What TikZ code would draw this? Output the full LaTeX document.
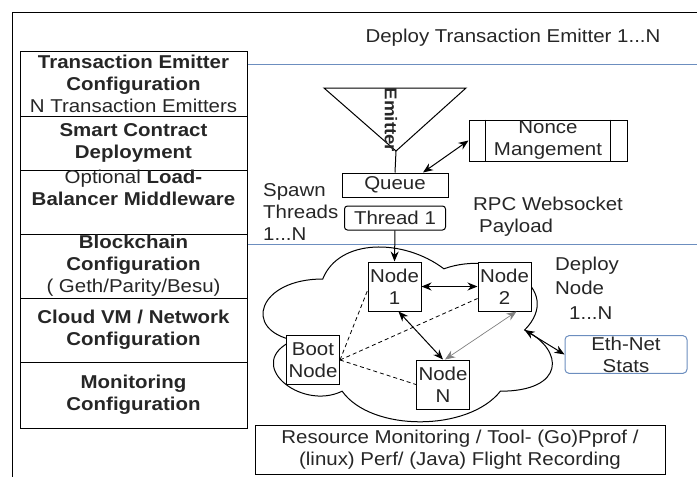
\documentclass[tikz,border=0pt]{standalone}
\usepackage{fontspec}
\setmainfont[FakeStretch=1.1]{Liberation Sans}
\usetikzlibrary{positioning,arrows.meta}

\definecolor{ruleblue}{HTML}{6C8EBF}
\definecolor{inkgray}{HTML}{262626}

\tikzset{
  cfgbox/.style={draw, line width=1pt, outer sep=0pt, inner sep=0pt,
    minimum width=227pt, minimum height=#1, align=center},
  procbox/.style={draw, line width=1pt, inner sep=1pt, align=center},
  netnode/.style={draw, line width=1pt, fill=white, inner sep=1pt,
    minimum width=53pt, minimum height=49pt, align=center},
  note/.style={inner sep=0pt, align=left},
  link/.style={line width=1pt, <->},
  peerlink/.style={line width=0.8pt, dashed, dash pattern=on 4pt off 3pt}
}

\begin{document}
\begin{tikzpicture}[x=1pt, y=-1pt, >={Stealth[length=10pt,width=8pt]},
  font=\fontsize{18.6}{22}\selectfont, text=inkgray]
\useasboundingbox (0,0) rectangle (697,477);

% frame and separators
\draw[line width=1pt] (12,477) |- (697,12);
\draw[ruleblue, line width=1pt] (247,64) -- (697,64);
\draw[ruleblue, line width=1pt] (247,244) -- (697,244);

% configuration stack
\node[cfgbox=65pt] (tecfg) at (133.5,83.5)
  {\textbf{Transaction Emitter}\\\textbf{Configuration}\\N Transaction Emitters};
\node[cfgbox=54pt, below=0pt of tecfg] (sccfg)
  {\textbf{Smart Contract}\\\textbf{Deployment}};
\node[cfgbox=60pt, below=0pt of sccfg] (lbcfg)
  {Optional \textbf{Load-}\\\textbf{Balancer Middleware}\\\strut};
\node[cfgbox=64pt, below=0pt of lbcfg] (bccfg)
  {\textbf{Blockchain}\\\textbf{Configuration}\\( Geth/Parity/Besu)};
\node[cfgbox=64pt, below=0pt of bccfg] (vmcfg)
  {\textbf{Cloud VM / Network}\\\textbf{Configuration}};
\node[cfgbox=66pt, below=0pt of vmcfg] (moncfg)
  {\textbf{Monitoring}\\\textbf{Configuration}};

% emitter
\node at (513,38) (deploytx) {Deploy Transaction Emitter 1...N};
\coordinate (emit) at (396,151);
\draw[line width=1pt] (324,88) -- (466,88) -- (emit) -- cycle;
\node[rotate=-90, font=\fontsize{17}{20}\selectfont\bfseries] (emitlbl) at (391,120) {Emitter};
\node[procbox, minimum width=106pt, minimum height=24pt] (queue) at (395,185) {Queue};
\node[procbox, rounded corners=3pt, minimum width=101pt, minimum height=24pt] (thread) at (395,218) {Thread 1};
\node[procbox, minimum width=158pt, minimum height=41pt] (nonce) at (548,140.5) {Nonce\\Mangement};
\draw[line width=1pt] ([xshift=17pt]nonce.north west) -- ([xshift=17pt]nonce.south west);
\draw[line width=1pt] ([xshift=-17pt]nonce.north east) -- ([xshift=-17pt]nonce.south east);
\draw[line width=1pt] (emit) -- (queue.north);
\draw[link] ([xshift=28pt]queue.north) -- (nonce.west);
\node[note, anchor=west] (spawn) at (263,212.5) {Spawn\\Threads\\1...N};
\node[note, anchor=west] (rpc) at (473,217) {RPC Websocket\\\hspace*{6pt}Payload};

% blockchain network (cloud outline)
\begin{scope}[shift={(242,228)}, xscale=323, yscale=204]
  \draw[line width=1pt] (0.25,0.25)
    .. controls (0.05,0.25) and (0,0.5) .. (0.16,0.55)
    .. controls (0,0.66) and (0.18,0.9) .. (0.31,0.8)
    .. controls (0.4,1) and (0.7,1) .. (0.8,0.8)
    .. controls (1,0.8) and (1,0.6) .. (0.875,0.5)
    .. controls (1,0.3) and (0.8,0.1) .. (0.625,0.2)
    .. controls (0.5,0.05) and (0.3,0.05) .. (0.25,0.25) -- cycle;
  \coordinate (netport) at (0.875,0.5);
\end{scope}
\node[netnode] (n1) at (394.5,286.5) {Node\\1};
\node[netnode] (n2) at (504.5,286.5) {Node\\2};
\node[netnode] (boot) at (313,360) {Boot\\Node};
\node[netnode] (nN) at (443,384.5) {Node\\N};
\draw[line width=1pt, ->] (thread.south) -- (n1.north);
\draw[link] (n1.east) -- (n2.west);
\draw[link] ([xshift=4pt]n1.south) -- (nN.north);
\draw[gray, line width=0.7pt, <->] ([xshift=12pt]n2.south) -- ([xshift=2pt]nN.north);
\draw[peerlink] (boot.east) -- ([yshift=-4pt]n1.west);
\draw[peerlink] (boot.east) -- ([yshift=-12pt]n2.west);
\draw[peerlink] (boot.east) -- (nN.west);
\node[note, anchor=west, font=\fontsize{18.6}{24.5}\selectfont] (deploynode) at (555,288)
  {Deploy\\Node\\\hspace*{14pt}1...N};

% stats
\node[procbox, draw=ruleblue, rounded corners=4pt, minimum width=122pt, minimum height=37pt] (ethnet) at (626,354.5) {Eth-Net\\Stats};
\draw[link] (netport) -- (ethnet.west);

% monitoring tools
\node[procbox, minimum width=410pt, minimum height=49pt] (monitor) at (460,449.5)
  {Resource Monitoring / Tool- (Go)Pprof /\\(linux) Perf/ (Java) Flight Recording};
\end{tikzpicture}
\end{document}
